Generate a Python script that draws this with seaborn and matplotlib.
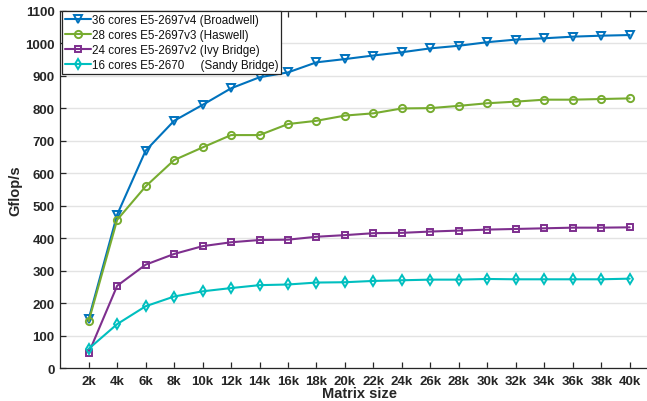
import matplotlib
matplotlib.use("Agg")
import matplotlib.pyplot as plt
import seaborn as sns
import pandas as pd

sizes = [2, 4, 6, 8, 10, 12, 14, 16, 18, 20, 22, 24, 26, 28, 30, 32, 34, 36, 38, 40]
tick_labels = [f"{s}k" for s in sizes]

broadwell = [152, 473, 670, 762, 811, 862, 896, 911, 942, 952, 963, 973, 985, 993, 1004, 1012, 1016, 1021, 1024, 1026]
haswell = [145, 457, 560, 641, 680, 718, 718, 752, 762, 778, 785, 800, 801, 808, 816, 821, 827, 827, 829, 831]
ivybridge = [47, 254, 319, 352, 376, 388, 395, 396, 405, 410, 416, 417, 421, 424, 427, 429, 431, 433, 433, 434]
sandybridge = [60, 136, 191, 221, 237, 247, 256, 258, 264, 265, 269, 271, 273, 273, 275, 274, 274, 274, 274, 276]

labels = [
    "36 cores E5-2697v4 (Broadwell)",
    "28 cores E5-2697v3 (Haswell)",
    "24 cores E5-2697v2 (Ivy Bridge)",
    "16 cores E5-2670     (Sandy Bridge)",
]
series = [broadwell, haswell, ivybridge, sandybridge]
colors = ["#0072BD", "#77AC30", "#7E2F8E", "#00BFBF"]
markers = ["v", "o", "s", "d"]
msizes = [5.5, 5.2, 4.6, 5.5]

sns.set_theme(style="white")
plt.rcParams["font.family"] = ["Liberation Sans", "DejaVu Sans"]

fig = plt.figure(figsize=(6.47, 4.02), dpi=100)
ax = fig.add_axes([60.2 / 647, 32.7 / 402, 598 / 647, 357.3 / 402])

for lab, vals, col, mk, ms in zip(labels, series, colors, markers, msizes):
    df = pd.DataFrame({"size": sizes, "gflops": vals})
    sns.lineplot(data=df, x="size", y="gflops", ax=ax, color=col, marker=mk,
                 markersize=ms, mfc="none", mec=col, mew=1.4,
                 linewidth=1.5, label=lab)

ax.set_xlim(0, 42)
ax.set_ylim(0, 1100)
ax.set_xticks(sizes)
ax.set_xticklabels(tick_labels)
ax.set_yticks(range(0, 1101, 100))
ax.yaxis.grid(True, color="#e3e3e3", linewidth=1.0)
ax.xaxis.grid(False)
ax.set_axisbelow(True)

for sp in ["left", "bottom", "top"]:
    ax.spines[sp].set_visible(True)
    ax.spines[sp].set_color("#262626")
    ax.spines[sp].set_linewidth(0.9)
ax.spines["right"].set_visible(False)

ax.tick_params(axis="x", which="both", direction="in", top=True, bottom=True,
               length=4, width=0.9, color="#262626", labelsize=9.5, pad=5)
ax.tick_params(axis="y", which="both", direction="in", left=True, right=False,
               length=4, width=0.9, color="#262626", labelsize=9.5, pad=4)
for t in ax.get_xticklabels() + ax.get_yticklabels():
    t.set_fontweight("bold")
    t.set_color("#262626")

ax.set_xlabel("Matrix size", fontsize=10.5, fontweight="bold", color="#262626", labelpad=-1)
ax.set_ylabel("Gflop/s", fontsize=10.5, fontweight="bold", color="#262626", labelpad=2)

leg = ax.legend(loc="upper left", bbox_to_anchor=(0.003, 1.0), borderaxespad=0,
                fontsize=8.4, frameon=True, fancybox=False, handlelength=2.2,
                handletextpad=0.1, labelspacing=0.25, borderpad=0.25)
leg.get_frame().set_edgecolor("#262626")
leg.get_frame().set_linewidth(0.9)
leg.get_frame().set_alpha(1)
for t in leg.get_texts():
    t.set_color("#111111")

fig.savefig("out.png", dpi=100)
